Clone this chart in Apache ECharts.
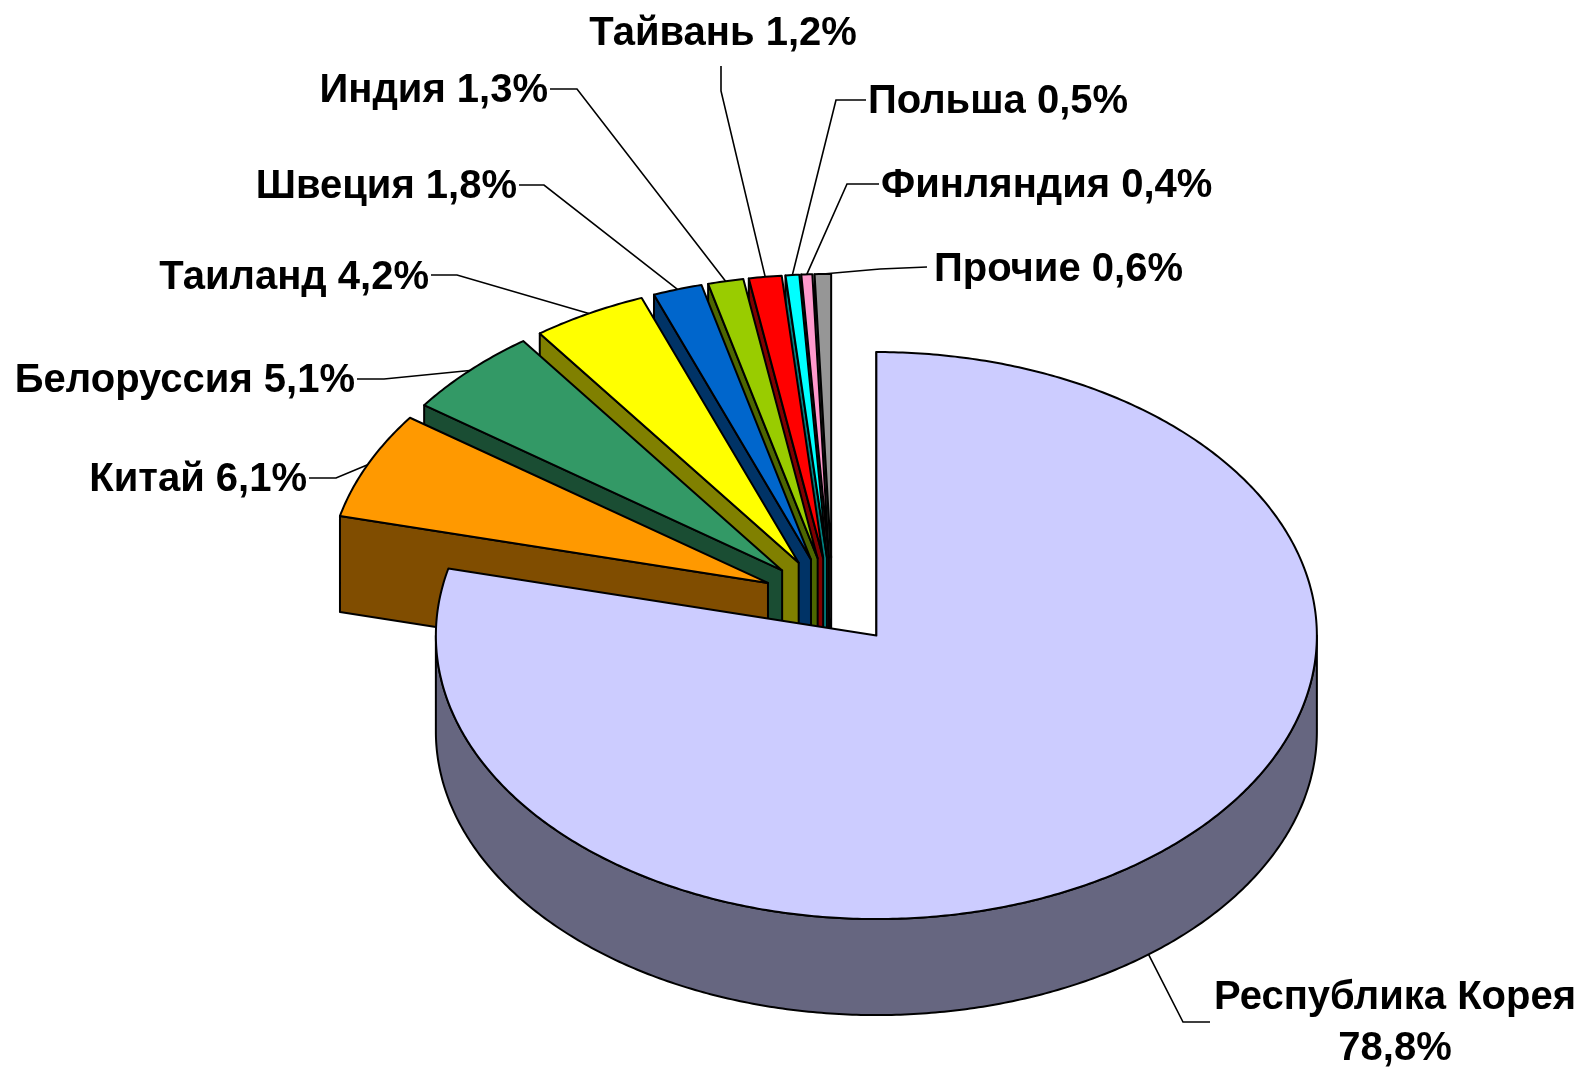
<!DOCTYPE html>
<html>
<head>
<meta charset="utf-8">
<title>Pie</title>
<script src="https://cdn.jsdelivr.net/npm/echarts@6/dist/echarts.min.js"></script>
<style>
html, body { margin: 0; padding: 0; background: #fff; }
#chart { width: 1583px; height: 1068px; }
</style>
</head>
<body>
<div id="chart"></div>
<script>
// data, clockwise from 12 o'clock
const countries = ['Республика Корея', 'Китай', 'Белоруссия', 'Таиланд', 'Швеция', 'Индия', 'Тайвань', 'Польша', 'Финляндия', 'Прочие']
const shares = [78.8, 6.1, 5.1, 4.2, 1.8, 1.3, 1.2, 0.5, 0.4, 0.6]

const topColors = ['#CCCCFF', '#FF9900', '#339966', '#FFFF00', '#0066CC', '#99CC00', '#FF0000', '#00FFFF', '#FF99CC', '#969696']
const sideColors = ['#666680', '#804D00', '#1A4D33', '#808000', '#003366', '#4D6600', '#800000', '#008080', '#804D66', '#4B4B4B']

// pie geometry, px
const pieCx = 832.5
const pieCy = 601.2
const rx = 440.5
const ry = 283.5
const explodeX = 71
const explodeY = 43.7
const depth = 96

// text position [x, y, align], leader elbow points run from the text towards the pie
const labelPos = [
    [1395, 998, 'center'],
    [307, 480, 'right'],
    [355, 381, 'right'],
    [429, 278, 'right'],
    [517, 187, 'right'],
    [548, 91, 'right'],
    [723, 34, 'center'],
    [868, 102, 'left'],
    [881, 186, 'left'],
    [934, 270, 'left']
]
const leaderPos = [
    [[1210, 1022], [1183, 1022]],
    [[309, 478], [336, 478]],
    [[357, 379], [384, 379]],
    [[431, 275], [457, 275]],
    [[519, 185], [544, 185]],
    [[550, 89], [577, 89]],
    [[721, 66], [721, 91]],
    [[866, 100], [836, 100]],
    [[879, 184], [847, 184]],
    [[927, 267], [880, 269]]
]

const labelFont = 'bold 40px "Liberation Sans", Arial, sans-serif'
const total = shares.reduce((a, b) => a + b, 0)

function toAngle (pct) {
    return pct / total * Math.PI * 2
}

function sliceRange (idx) {
    let start = 0
    for (let i = 0; i < idx; i++) start += shares[i]
    return [toAngle(start), toAngle(start + shares[idx])]
}

function renderSlice (params, api) {
    const idx = api.value(0)
    const range = sliceRange(idx)
    const mid = (range[0] + range[1]) / 2
    const ox = pieCx + explodeX * Math.sin(mid)
    const oy = pieCy - explodeY * Math.cos(mid)
    const rim = (a, dy) => [ox + rx * Math.sin(a), oy - ry * Math.cos(a) + (dy || 0)]
    const arc = (a0, a1, dy) => {
        const pts = []
        const n = Math.max(2, Math.ceil((a1 - a0) / 0.01))
        for (let i = 0; i <= n; i++) pts.push(rim(a0 + (a1 - a0) * i / n, dy))
        return pts
    }
    const edge = { stroke: '#000', lineWidth: 2, lineJoin: 'round' }
    const children = []

    // cut face on the starting edge
    children.push({
        type: 'polygon',
        shape: { points: [[ox, oy], rim(range[0]), rim(range[0], depth), [ox, oy + depth]] },
        style: { fill: sideColors[idx], ...edge }
    })

    // outer wall, only the part facing the viewer
    const wallFrom = Math.max(range[0], Math.PI / 2)
    const wallTo = Math.min(range[1], Math.PI * 1.5)
    if (wallTo > wallFrom) {
        children.push({
            type: 'polygon',
            shape: { points: arc(wallFrom, wallTo).concat(arc(wallFrom, wallTo, depth).reverse()) },
            style: { fill: sideColors[idx], ...edge }
        })
    }

    // top face
    children.push({
        type: 'polygon',
        shape: { points: [[ox, oy]].concat(arc(range[0], range[1])) },
        style: { fill: topColors[idx], ...edge }
    })

    // leader line from the label to the middle of the rim
    const isWall = mid > Math.PI / 2 && mid < Math.PI * 1.5
    children.push({
        type: 'polyline',
        z2: 50,
        shape: { points: leaderPos[idx].concat([rim(mid, isWall ? depth : 0)]) },
        style: { fill: null, stroke: '#000', lineWidth: 1.6 }
    })

    // label, value printed with a decimal comma
    const pct = shares[idx].toFixed(1).replace('.', ',') + '%'
    const pos = labelPos[idx]
    const lines = idx === 0 ? [countries[idx], pct] : [countries[idx] + ' ' + pct]
    lines.forEach((line, i) => {
        children.push({
            type: 'text',
            z2: 60,
            style: {
                text: line,
                x: pos[0],
                y: pos[1] + i * 51,
                align: pos[2],
                verticalAlign: 'middle',
                font: labelFont,
                fill: '#000'
            }
        })
    })

    return { type: 'group', children }
}

// painted back to front, the big slice last
const drawOrder = shares.map((v, i) => [i, v]).reverse()

const myChart = echarts.init(document.getElementById('chart'), null, { renderer: 'canvas' })
myChart.setOption({
    animation: false,
    backgroundColor: '#fff',
    series: [
        {
            type: 'custom',
            coordinateSystem: 'none',
            silent: true,
            renderItem: renderSlice,
            data: drawOrder
        }
    ]
})
</script>
</body>
</html>
